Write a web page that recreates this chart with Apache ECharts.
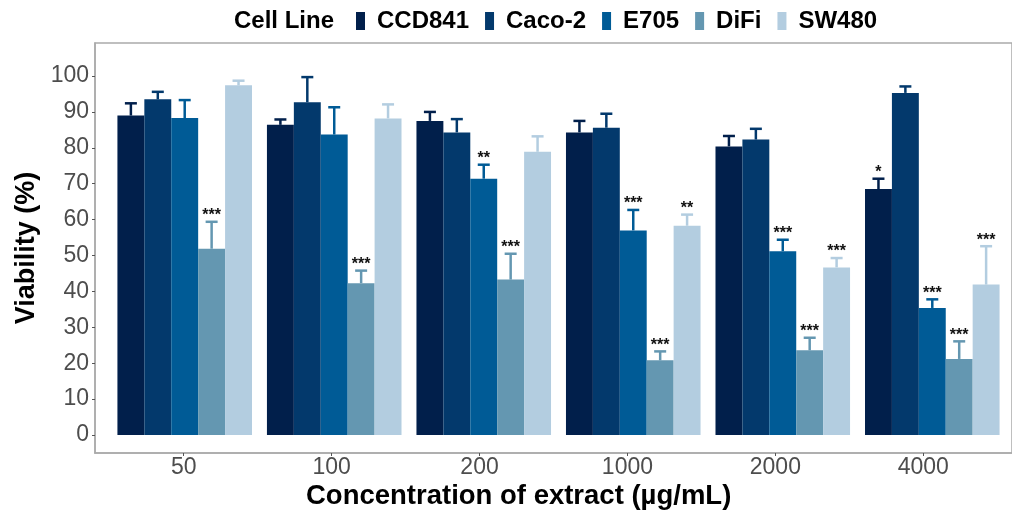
<!DOCTYPE html>
<html>
<head>
<meta charset="utf-8">
<script src="https://cdn.jsdelivr.net/npm/echarts@6/dist/echarts.min.js"></script>
<style>html,body{margin:0;padding:0;background:#fff;}#chart{width:1012px;height:511px;}</style>
</head>
<body>
<div id="chart"></div>
<script>
// ---- data ----
const concentrations = ['50', '100', '200', '1000', '2000', '4000'];
const cellLines = ['CCD841', 'Caco-2', 'E705', 'DiFi', 'SW480'];
const colors = ['#011f4b', '#03396c', '#005b96', '#6497b1', '#b3cde0'];
const yTicks = [0, 10, 20, 30, 40, 50, 60, 70, 80, 90, 100];

const ccd841 = [89.0, 86.4, 87.5, 84.3, 80.4, 68.5];
const caco2  = [93.5, 92.7, 84.3, 85.6, 82.3, 95.3];
const e705   = [88.3, 83.7, 71.4, 57.0, 51.2, 35.4];
const difi   = [51.9, 42.3, 43.3, 20.8, 23.6, 21.2];
const sw480  = [97.4, 88.2, 78.9, 58.3, 46.7, 41.9];

const ccd841Err = [3.4, 1.5, 2.5, 3.2, 2.9, 2.9];
const caco2Err  = [2.1, 7.0, 3.7, 3.9, 3.0, 1.8];
const e705Err   = [5.0, 7.6, 3.9, 5.7, 3.2, 2.4];
const difiErr   = [7.5, 3.5, 7.2, 2.5, 3.5, 4.9];
const sw480Err  = [1.3, 3.9, 4.3, 3.1, 2.6, 10.7];

const ccd841Sig = ['', '', '', '', '', '*'];
const caco2Sig  = ['', '', '', '', '', ''];
const e705Sig   = ['', '', '**', '***', '***', '***'];
const difiSig   = ['***', '***', '***', '***', '***', '***'];
const sw480Sig  = ['', '', '', '**', '***', '***'];

const values = [ccd841, caco2, e705, difi, sw480];
const errs = [ccd841Err, caco2Err, e705Err, difiErr, sw480Err];
const sigs = [ccd841Sig, caco2Sig, e705Sig, difiSig, sw480Sig];

// ---- layout ----
const FONT = "'Liberation Sans', Arial, Helvetica, sans-serif";
const Y_MIN = -5, Y_MAX = 109.2;
const X_MIN = 0.4, X_MAX = 6.6;
const plotLeft = 95, plotTop = 43, plotBottom = 58;
const plotWidth = 927;
const unit = plotWidth / (X_MAX - X_MIN);
const barLeft = plotLeft + (0.5 - X_MIN) * unit;
const barWidth = unit * 0.18;

const chart = echarts.init(document.getElementById('chart'), null, {renderer: 'canvas'});

const barSeries = cellLines.map((name, si) => ({
  name: name,
  type: 'bar',
  xAxisIndex: 1,
  yAxisIndex: 1,
  data: values[si],
  barWidth: barWidth,
  barGap: '0%',
  itemStyle: {color: colors[si]},
  emphasis: {disabled: true},
  z: 2
}));

const errSeries = cellLines.map((name, si) => ({
  name: name + ' err',
  type: 'custom',
  xAxisIndex: 1,
  yAxisIndex: 1,
  silent: true,
  z: 3,
  data: concentrations.map((c, i) => [i, values[si][i], errs[si][i]]),
  renderItem: function (params, api) {
    const i = api.value(0), v = api.value(1), e = api.value(2);
    const band = api.coord([1, v])[0] - api.coord([0, v])[0];
    const bw = band * 0.18;
    const base = api.coord([i, v]);
    const top = api.coord([i, v + e]);
    const x = base[0] + (si - 2) * bw;
    const capHalf = 6;
    const col = colors[si];
    const children = [
      {type: 'line', shape: {x1: x, y1: base[1], x2: x, y2: top[1]},
       style: {stroke: col, lineWidth: 2.5}},
      {type: 'line', shape: {x1: x - capHalf, y1: top[1], x2: x + capHalf, y2: top[1]},
       style: {stroke: col, lineWidth: 2.5}}
    ];
    const s = sigs[si][params.dataIndex];
    if (s) {
      children.push({type: 'text', style: {
        text: s, x: x, y: top[1] - 6, align: 'center', verticalAlign: 'middle',
        fill: '#111', font: 'bold 16px ' + FONT}});
    }
    return {type: 'group', children: children};
  }
}));

const option = {
  animation: false,
  backgroundColor: '#ffffff',
  textStyle: {fontFamily: FONT},
  title: [
    {text: 'Cell Line', left: 234, top: 9, padding: 0,
     textStyle: {fontSize: 24, fontWeight: 'bold', color: '#000', fontFamily: FONT, lineHeight: 24}},
    {text: 'Concentration of extract (µg/mL)', left: 306, top: 482, padding: 0,
     textStyle: {fontSize: 27.5, fontWeight: 'bold', color: '#000', fontFamily: FONT, lineHeight: 28}}
  ],
  legend: {
    data: cellLines,
    left: 356, top: 9, padding: 0,
    icon: 'rect', itemWidth: 9, itemHeight: 18, itemGap: 16,
    textStyle: {fontSize: 24, fontWeight: 'bold', color: '#000', fontFamily: FONT, padding: [0, 0, 0, 7]},
    selectedMode: false
  },
  grid: [
    {left: plotLeft, top: plotTop, bottom: plotBottom, width: plotWidth,
     show: true, borderColor: '#aaaaaa', borderWidth: 1.5, backgroundColor: 'transparent'},
    {left: barLeft, top: plotTop, bottom: plotBottom, width: 6 * unit, show: false}
  ],
  xAxis: [
    {type: 'value', gridIndex: 0, min: X_MIN, max: X_MAX,
     splitLine: {show: false},
     axisLine: {show: true, onZero: false, lineStyle: {color: '#aaaaaa', width: 1.5}},
     axisTick: {show: true, length: 3, customValues: [1, 2, 3, 4, 5, 6], lineStyle: {color: '#555'}},
     axisLabel: {show: true, customValues: [1, 2, 3, 4, 5, 6], margin: 3,
       fontSize: 23, color: '#4d4d4d', fontFamily: FONT,
       formatter: function (v) { return concentrations[Math.round(v) - 1]; }}},
    {type: 'category', gridIndex: 1, data: concentrations, show: false}
  ],
  yAxis: [
    {type: 'value', gridIndex: 0, min: Y_MIN, max: Y_MAX,
     name: 'Viability (%)', nameLocation: 'middle', nameGap: 51,
     nameTextStyle: {fontSize: 27, fontWeight: 'bold', color: '#000', fontFamily: FONT},
     splitLine: {show: false},
     axisLine: {show: true, onZero: false, lineStyle: {color: '#aaaaaa', width: 1.5}},
     axisTick: {show: true, length: 3, customValues: yTicks, lineStyle: {color: '#555'}},
     axisLabel: {show: true, customValues: yTicks, margin: 6, fontSize: 23,
       color: '#4d4d4d', fontFamily: FONT}},
    {type: 'value', gridIndex: 1, min: Y_MIN, max: Y_MAX, show: false, splitLine: {show: false}}
  ],
  series: barSeries.concat(errSeries)
};

chart.setOption(option);
</script>
</body>
</html>
